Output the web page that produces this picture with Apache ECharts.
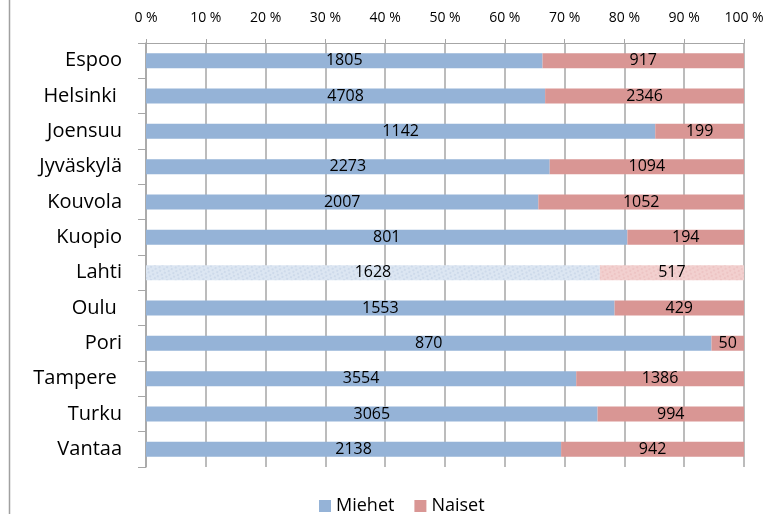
<!DOCTYPE html>
<html>
<head>
<meta charset="utf-8">
<script src="https://cdn.jsdelivr.net/npm/echarts@6/dist/echarts.min.js"></script>
<style>
  html, body { margin: 0; padding: 0; background: #fff; }
  #chart { width: 778px; height: 514px; }
</style>
</head>
<body>
<div id="chart"></div>
<script>
const cities = ["Espoo", "Helsinki ", "Joensuu", "Jyväskylä", "Kouvola", "Kuopio", "Lahti", "Oulu ", "Pori", "Tampere ", "Turku", "Vantaa"];
const miehet = [1805, 4708, 1142, 2273, 2007, 801, 1628, 1553, 870, 3554, 3065, 2138];
const naiset = [917, 2346, 199, 1094, 1052, 194, 517, 429, 50, 1386, 994, 942];

const FONT = "Open Sans";
const gridColor = "#a6a6a6";

// 100 % stacked -> shares per city
function share(arr) {
  return arr.map((v, i) => (v / (miehet[i] + naiset[i])) * 100);
}

// Lahti row has a lighter, textured fill
function buildData(arr, light, speck) {
  return share(arr).map((v, i) => {
    if (cities[i] !== "Lahti") return v;
    return {
      value: v,
      itemStyle: {
        color: light,
        decal: {
          symbol: "circle",
          symbolSize: 0.8,
          color: speck,
          dashArrayX: [[2, 3], [0, 2, 2, 1]],
          dashArrayY: [2, 1],
          rotation: 0.4
        }
      }
    };
  });
}

const chart = echarts.init(document.getElementById("chart"));

const labelStyle = raw => ({
  show: true,
  position: "inside",
  color: "#000",
  fontFamily: FONT,
  fontSize: 16,
  formatter: p => raw[p.dataIndex]
});

chart.setOption({
  backgroundColor: "#fff",
  animation: false,
  textStyle: { fontFamily: FONT },
  grid: { left: 146, right: 34, top: 43, bottom: 47 },
  xAxis: {
    type: "value",
    position: "top",
    min: 0,
    max: 100,
    interval: 10,
    axisLine: { show: true, lineStyle: { color: gridColor } },
    axisTick: { show: true, length: 4, lineStyle: { color: gridColor } },
    splitLine: { show: true, lineStyle: { color: gridColor, width: 1.5 } },
    axisLabel: { formatter: "{value} %", color: "#000", fontSize: 14, margin: 18, fontFamily: FONT }
  },
  yAxis: {
    type: "category",
    inverse: true,
    data: cities,
    axisLine: { show: true, lineStyle: { color: gridColor, width: 1.5 } },
    axisTick: { show: true, length: 8, lineStyle: { color: gridColor } },
    axisLabel: { color: "#000", fontSize: 20, margin: 24, fontFamily: FONT }
  },
  legend: {
    top: 492,
    left: 314,
    icon: "rect",
    itemWidth: 12,
    itemHeight: 12,
    itemGap: 20,
    textStyle: { fontSize: 18, color: "#000", fontFamily: FONT },
    data: ["Miehet", "Naiset"]
  },
  graphic: [
    {
      type: "line",
      shape: { x1: 9.5, y1: 0, x2: 9.5, y2: 514 },
      style: { stroke: "#a0a0a0", lineWidth: 1.5 }
    }
  ],
  series: [
    {
      name: "Miehet",
      type: "bar",
      stack: "total",
      barWidth: 15,
      itemStyle: { color: "#95b3d7" },
      label: labelStyle(miehet),
      data: buildData(miehet, "#dce6f2", "rgba(165,185,215,0.6)")
    },
    {
      name: "Naiset",
      type: "bar",
      stack: "total",
      barWidth: 15,
      itemStyle: { color: "#d99694" },
      label: labelStyle(naiset),
      data: buildData(naiset, "#f2d0cf", "rgba(225,165,165,0.6)")
    }
  ]
});
</script>
</body>
</html>
